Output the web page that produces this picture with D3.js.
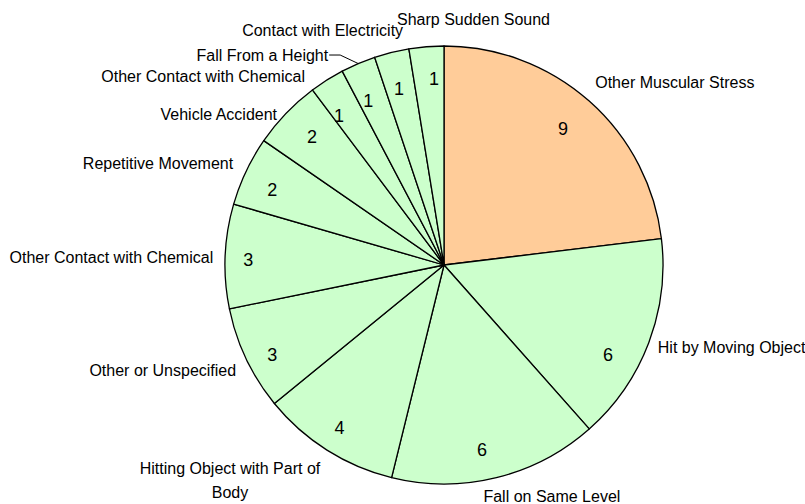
<!DOCTYPE html>
<html>
<head>
<meta charset="utf-8">
<script src="https://cdn.jsdelivr.net/npm/d3@7"></script>
<style>
  html, body { margin: 0; padding: 0; background: #ffffff; }
  svg { display: block; }
  text { font-family: Arial, "Liberation Sans", sans-serif; fill: #000; }
</style>
</head>
<body>
<svg id="chart" width="805" height="504"></svg>
<script>
// ---- data ----
const categories = [
  "Other Muscular Stress",
  "Hit by Moving Object",
  "Fall on Same Level",
  "Hitting Object with Part of Body",
  "Other or Unspecified",
  "Other Contact with Chemical",
  "Repetitive Movement",
  "Vehicle Accident",
  "Other Contact with Chemical",
  "Fall From a Height",
  "Contact with Electricity",
  "Sharp Sudden Sound"
];
const values = [9, 6, 6, 4, 3, 3, 2, 2, 1, 1, 1, 1];
const highlighted = [true, false, false, false, false, false, false, false, false, false, false, false];

// ---- layout (label placement relative to the slice's outer mid point / value centroid) ----
const labelLayout = [
  { dx: 6,   dy: -13,  anchor: "start",  lines: ["Other Muscular Stress"] },
  { dx: 9,   dy: 10,   anchor: "start",  lines: ["Hit by Moving Object"] },
  { dx: -13, dy: 24.5, anchor: "start",  lines: ["Fall on Same Level"] },
  { dx: -97, dy: 24,   anchor: "middle", lines: ["Hitting Object with Part of", "Body"] },
  { dx: -10, dy: 17,   anchor: "end",    lines: ["Other or Unspecified"] },
  { dx: -12, dy: 7,    anchor: "end",    lines: ["Other Contact with Chemical"] },
  { dx: -13, dy: -2,   anchor: "end",    lines: ["Repetitive Movement"] },
  { dx: -9,  dy: 7,    anchor: "end",    lines: ["Vehicle Accident"] },
  { dx: -22, dy: 2,    anchor: "end",    lines: ["Other Contact with Chemical"] },
  { dx: -30, dy: -2.5, anchor: "end",    lines: ["Fall From a Height"], leader: true },
  { dx: 11.5,dy: -16.4,anchor: "end",    lines: ["Contact with Electricity"] },
  { dx: -29.4,dy: -22.2,anchor: "start", lines: ["Sharp Sudden Sound"] }
];
const valueNudge = [
  [-5.7, 4.2], [-11.8, 23.3], [-7, 1.5], [-4, 4], [-2, 9.4], [-8, 1.6],
  [-2, 4.6], [3.6, 2], [-4.5, 9], [-2, 8], [0, 6], [5, 1]
];

const W = 805, H = 504;
const cx = 444, cy = 265, R = 219, valueR = 188;
const svg = d3.select("#chart");
const g = svg.append("g").attr("transform", `translate(${cx},${cy})`);

const pie = d3.pie().sort(null).value(d => d.v);
const arcs = pie(values.map((v, i) => ({ v, i })));
const arc = d3.arc().innerRadius(0).outerRadius(R);

g.selectAll("path.slice")
  .data(arcs)
  .enter().append("path")
  .attr("class", "slice")
  .attr("d", arc)
  .attr("fill", d => highlighted[d.data.i] ? "#FFCC99" : "#CCFFCC")
  .attr("stroke", "#000")
  .attr("stroke-width", 1.3)
  .attr("stroke-linejoin", "round");

const mid = d => (d.startAngle + d.endAngle) / 2;
const pt = (a, r) => [Math.sin(a) * r, -Math.cos(a) * r];

// value labels
g.selectAll("text.val")
  .data(arcs)
  .enter().append("text")
  .attr("class", "val")
  .attr("x", (d, k) => pt(mid(d), valueR)[0] + valueNudge[k][0])
  .attr("y", (d, k) => pt(mid(d), valueR)[1] + valueNudge[k][1])
  .attr("dy", "0.36em")
  .attr("text-anchor", "middle")
  .style("font-size", "18px")
  .text(d => d.data.v);

// category labels
arcs.forEach((d, k) => {
  const L = labelLayout[k];
  const p = pt(mid(d), R);
  const t = g.append("text")
    .attr("text-anchor", L.anchor)
    .style("font-size", "16px");
  L.lines.forEach((ln, j) => {
    t.append("tspan")
      .attr("x", p[0] + L.dx)
      .attr("y", p[1] + L.dy + j * 24)
      .text(ln);
  });
  if (L.leader) {
    const line = d3.line();
    g.append("path")
      .attr("d", line([[p[0] + L.dx + 1, p[1] - 8.5], [p[0] - 18, p[1] - 8.5], [p[0], p[1]]]))
      .attr("fill", "none")
      .attr("stroke", "#000")
      .attr("stroke-width", 1);
  }
});
</script>
</body>
</html>
